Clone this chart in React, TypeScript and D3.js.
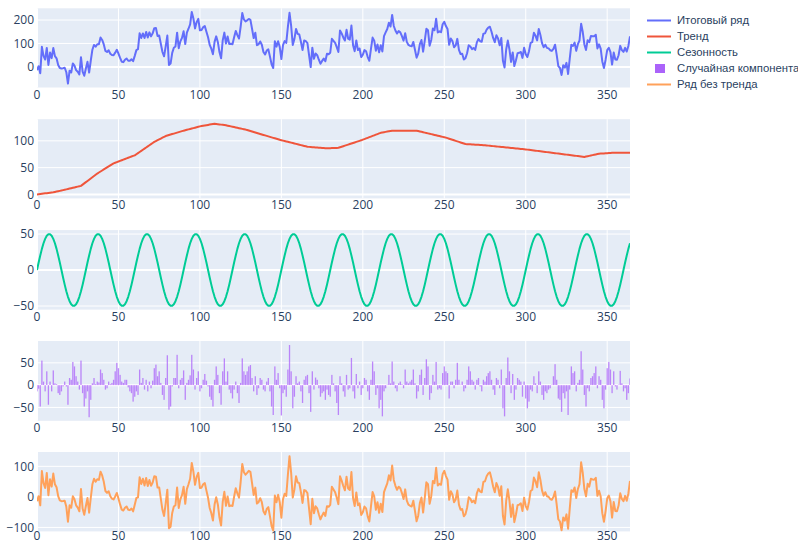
import React from "react";
import * as d3 from "d3";

// ---------- data ----------
const N = 365;
const dayIndex = d3.range(N);

// trend knots (day, value)
const trendKnotDays = [0, 10, 16, 27, 37, 47, 60, 72, 79, 90, 100, 109, 116, 128, 149, 166, 178, 185, 199, 211, 218, 233, 251, 263, 274, 300, 336, 345, 355, 364];
const trendKnotValues = [0, 4, 8, 16, 39, 58, 73, 98, 109, 119, 127, 132, 129, 121, 102, 89, 86, 87, 101, 115, 119, 119, 106, 94, 92, 84, 70, 76, 78, 78];

// one period (30 days) of the seasonal component
const seasonalPattern = [
  0, 10.4, 20.3, 29.4, 37.2, 43.3, 47.6, 49.7, 49.7, 47.6,
  43.3, 37.2, 29.4, 20.3, 10.4, 0, -10.4, -20.3, -29.4, -37.2,
  -43.3, -47.6, -49.7, -49.7, -47.6, -43.3, -37.2, -29.4, -20.3, -10.4,
];

// residual component, days 0-87
const residA = [
  -14, -8, -48, 55, 8, -14, 31, -44, 8, -14,
  33, 4, 2, -18, -22, -14, -3, 8, -3, -44,
  16, 12, 52, 42, 20, 8, -10, 55, -18, -48,
  -30, -14, -72, -33, 4, 16, 2, 8, 6, 35,
  27, 12, -10, -7, 8, 2, 5, 12, 31, 50,
  38, 23, 8, 5, 12, 12, -5, -14, -18, -37,
  -26, -14, -22, 35, 5, 16, -10, 12, -14, 8,
  -7, 10, 38, 46, 20, 31, 5, -22, -33, 16,
  67, -55, -48, -3, 16, 16, 68, -7,
];
// days 88-180
const residB = [
  12, 16, 33, -33, 5, 12, 22, 68, 35, -10,
  16, 31, -14, -7, 12, 25, 10, -3, -26, -33,
  -48, 12, 42, 23, -18, -44, 31, 60, 8, 31,
  -10, -18, -30, -10, 8, -18, -40, 5, 60, 31,
  23, 31, 42, 45, 16, -14, 20, -22, -7, 16,
  12, -10, -14, 8, 16, -14, -48, -67, 42, 12,
  27, -7, -68, -18, -10, -26, 35, 90, 31, -52,
  -26, 20, 4, 8, -14, -40, 12, 20, 23, -18,
  -60, 31, -10, 17, 12, -7, -26, -18, -14, -33,
  -10, -22, -26,
];
// days 181-272
const residC = [
  23, 4, -14, -40, -67, 20, 4, -14, -26, 23,
  -10, -7, 61, -14, -30, 25, -7, 8, -22, -7,
  16, 12, -14, -33, 12, 53, 31, -22, -7, -52,
  -33, -70, -14, -7, 1, 23, 4, 53, 8, -7,
  -14, 4, 8, 2, -7, 35, 8, 4, 8, 12,
  35, 4, -30, -14, 23, 35, -22, 16, 58, 42,
  -33, -18, 23, 8, 52, -10, -7, -10, 27, 42,
  31, 27, -30, 8, 8, -7, 12, 50, 12, 1,
  8, -14, -7, 12, 42, 31, 12, 8, -10, 12,
  16, -3,
];
// days 273-364
const residD = [
  -14, 12, 8, 20, 27, 31, 12, -10, -22, 16,
  12, -7, 35, -52, -70, 16, 62, 31, -18, 25,
  -33, -10, 16, 12, 8, -26, 8, -30, -52, -37,
  -10, -14, 20, 4, -18, 31, 8, -22, -33, -14,
  -18, -10, -7, 1, 20, 47, 12, -30, -33, -60,
  -18, -30, -14, -67, -10, 42, 27, 31, -14, 5,
  12, 76, 35, -22, -48, -7, -14, 16, 20, 27,
  42, -7, 20, 12, -33, -52, -10, 38, 52, 35,
  -18, 31, -3, -10, 1, 32, 4, -14, -7, -33,
  -18, 15,
];

const xTicks = [0, 50, 100, 150, 200, 250, 300, 350];
const yTicksTotal = [0, 100, 200];
const yTicksTrend = [0, 50, 100];
const yTicksSeason = [-50, 0, 50];
const yTicksResid = [-50, 0, 50];
const yTicksDetrended = [-100, 0, 100];

const legendLabels = ["Итоговый ряд", "Тренд", "Сезонность", "Случайная компонента", "Ряд без тренда"];
const colors = ["#636EFA", "#EF553B", "#00CC96", "#AB63FA", "#FFA15A"];

// ---------- derived series ----------
const trendInterp = d3.scaleLinear().domain(trendKnotDays).range(trendKnotValues);
const residual = [...residA, ...residB, ...residC, ...residD];
const trend = dayIndex.map((d) => trendInterp(d));
const seasonal = dayIndex.map((d) => seasonalPattern[d % seasonalPattern.length]);
const total = dayIndex.map((d) => trend[d] + seasonal[d] + residual[d]);
const detrended = dayIndex.map((d) => total[d] - trend[d]);

// ---------- layout ----------
const W = 798;
const H = 544;
const left = 37;
const right = 630;
const tickFont = "'Open Sans', verdana, arial, sans-serif";
const legendFont = "'Liberation Sans', Arial, sans-serif";
const textColor = "#2a3f5f";

type Panel = {
  top: number;
  bottom: number;
  domain: [number, number];
  ticks: number[];
  kind: "line" | "bar";
  values: number[];
  color: string;
  labelOffset: number;
};

const panels: Panel[] = [
  { top: 8.3, bottom: 87.5, domain: [-88, 250], ticks: yTicksTotal, kind: "line", values: total, color: colors[0], labelOffset: 11 },
  { top: 119.2, bottom: 198.4, domain: [-7.4, 140.4], ticks: yTicksTrend, kind: "line", values: trend, color: colors[1], labelOffset: 11 },
  { top: 230.1, bottom: 309.6, domain: [-55, 55.5], ticks: yTicksSeason, kind: "line", values: seasonal, color: colors[2], labelOffset: 11 },
  { top: 341, bottom: 420.8, domain: [-80, 99], ticks: yTicksResid, kind: "bar", values: residual, color: colors[3], labelOffset: 11 },
  { top: 452, bottom: 531.4, domain: [-113, 147], ticks: yTicksDetrended, kind: "line", values: detrended, color: colors[4], labelOffset: 9 },
];

function fmt(v: number) {
  return v < 0 ? "\u2212" + Math.abs(v) : String(v);
}

function PanelView({ p, idx }: { p: Panel; idx: number }) {
  const x = d3.scaleLinear().domain([0, N - 1]).range([left, right]);
  const y = d3.scaleLinear().domain(p.domain).range([p.bottom, p.top]);
  const line = d3
    .line<number>()
    .x((_, i) => x(i))
    .y((v) => y(v));
  const clipId = `clip${idx}`;
  const bw = ((right - left) / (N - 1)) * 0.8;
  return (
    <g>
      <defs>
        <clipPath id={clipId}>
          <rect x={left} y={p.top} width={right - left} height={p.bottom - p.top} />
        </clipPath>
      </defs>
      <rect x={left} y={p.top} width={right - left} height={p.bottom - p.top} fill="#E5ECF6" />
      {xTicks.map((t) => (
        <line key={"gx" + t} x1={x(t)} x2={x(t)} y1={p.top} y2={p.bottom} stroke="#fff" strokeWidth={t === 0 ? 2 : 1} />
      ))}
      {p.ticks.map((t) => (
        <line key={"gy" + t} x1={left} x2={right} y1={y(t)} y2={y(t)} stroke="#fff" strokeWidth={t === 0 ? 2 : 1} />
      ))}
      <g clipPath={`url(#${clipId})`}>
        {p.kind === "line" ? (
          <path d={line(p.values) || ""} fill="none" stroke={p.color} strokeWidth={2} strokeLinejoin="round" />
        ) : (
          p.values.map((v, i) => (
            <rect
              key={i}
              x={x(i) - bw / 2}
              width={bw}
              y={Math.min(y(v), y(0))}
              height={Math.abs(y(v) - y(0))}
              fill={p.color}
              fillOpacity={0.75}
            />
          ))
        )}
      </g>
      {p.ticks.map((t) => (
        <text key={"ty" + t} x={left - 3} y={y(t)} dy="0.35em" textAnchor="end" fontSize={12} fill={textColor} fontFamily={tickFont}>
          {fmt(t)}
        </text>
      ))}
      {xTicks.map((t) => (
        <text key={"tx" + t} x={x(t)} y={p.bottom + p.labelOffset} textAnchor="middle" fontSize={12} fill={textColor} fontFamily={tickFont}>
          {t}
        </text>
      ))}
    </g>
  );
}

export default function App() {
  const legendY = d3.scalePoint<string>().domain(legendLabels).range([20.5, 84.5]);
  return (
    <svg width={W} height={H} style={{ position: "absolute", left: 0, top: 0, background: "#fff" }}>
      {panels.map((p, i) => (
        <PanelView key={i} p={p} idx={i} />
      ))}
      {legendLabels.map((lab, i) => {
        const ly = legendY(lab) as number;
        return (
          <g key={lab}>
            {i === 3 ? (
              <rect x={655} y={ly - 4.5} width={10} height={9} fill={colors[i]} />
            ) : (
              <line x1={647} x2={671} y1={ly} y2={ly} stroke={colors[i]} strokeWidth={2} />
            )}
            <text x={677} y={ly} dy="0.35em" fontSize={11.3} fill={textColor} fontFamily={legendFont}>
              {lab}
            </text>
          </g>
        );
      })}
    </svg>
  );
}
